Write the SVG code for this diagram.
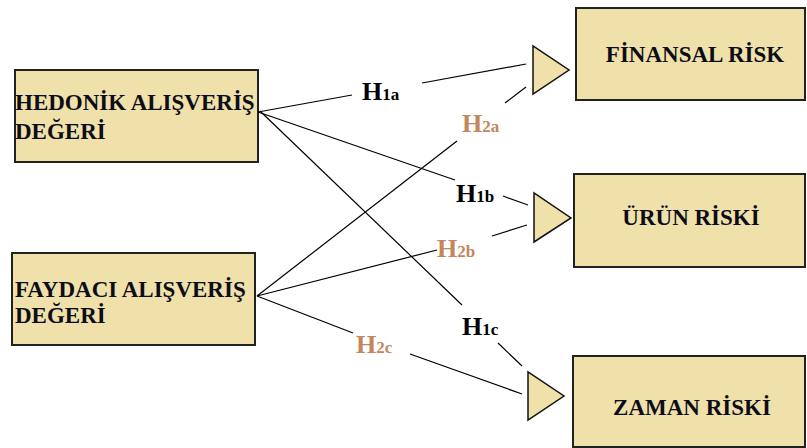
<svg xmlns="http://www.w3.org/2000/svg" width="807" height="448" viewBox="0 0 807 448">
<style>
.box{fill:#EFE1A9;stroke:#222;stroke-width:2}
.tri{fill:#EFE1A9;stroke:#111;stroke-width:1.5}
.t{font-family:"Liberation Serif","Times New Roman",serif;font-weight:bold;font-size:23px;fill:#0d0d1a}
.c{text-anchor:middle}
.lbl{font-family:"Liberation Serif","Times New Roman",serif;font-weight:bold;font-size:26px}
.h1{fill:#000}
.h2{fill:#C4865C}
.sub{font-size:17px}
.con line{stroke:#000;stroke-width:1.2}
</style>
<rect width="807" height="448" fill="#fff"/>
<g id="hedonik">
<rect class="box" x="15" y="70" width="243" height="92"/>
<text class="t" x="15" y="110">HEDONİK ALIŞVERİŞ</text>
<text class="t" x="15" y="139">DEĞERİ</text>
</g>
<g id="faydaci">
<rect class="box" x="12" y="253" width="243" height="92"/>
<text class="t" x="15" y="297">FAYDACI ALIŞVERİŞ</text>
<text class="t" x="15" y="323">DEĞERİ</text>
</g>
<g id="finansal">
<polygon class="tri" points="533,46 533,94 569,70"/>
<rect class="box" x="576" y="8" width="229" height="92"/>
<text class="t c" x="695" y="62">FİNANSAL RİSK</text>
</g>
<g id="urun">
<polygon class="tri" points="534,193 534,242 571,218"/>
<rect class="box" x="574" y="174" width="231" height="93"/>
<text class="t c" x="691" y="225">ÜRÜN RİSKİ</text>
</g>
<g id="zaman">
<polygon class="tri" points="528,372 528,420 564,396"/>
<rect class="box" x="573" y="356" width="232" height="91"/>
<text class="t c" x="692" y="415">ZAMAN RİSKİ</text>
</g>
<g id="connectors" class="con">
<line x1="258" y1="112" x2="352" y2="95"/>
<line x1="422" y1="83" x2="526" y2="64"/>
<line x1="257" y1="296" x2="457" y2="141"/>
<line x1="505" y1="103" x2="526" y2="87"/>
<line x1="258" y1="112" x2="455" y2="180"/>
<line x1="503" y1="196" x2="528" y2="205"/>
<line x1="260" y1="111" x2="462" y2="305"/>
<line x1="498" y1="343" x2="522" y2="366"/>
<line x1="257" y1="296" x2="437" y2="250"/>
<line x1="492" y1="236" x2="527" y2="225"/>
<line x1="257" y1="296" x2="353" y2="333"/>
<line x1="410" y1="354" x2="522" y2="394"/>
</g>
<g id="labels">
<text class="lbl h1" x="362" y="100">H<tspan class="sub">1a</tspan></text>
<text class="lbl h2" x="462" y="132">H<tspan class="sub">2a</tspan></text>
<text class="lbl h1" x="456" y="202">H<tspan class="sub">1b</tspan></text>
<text class="lbl h2" x="437" y="257">H<tspan class="sub">2b</tspan></text>
<text class="lbl h1" x="462" y="335">H<tspan class="sub">1c</tspan></text>
<text class="lbl h2" x="356" y="353">H<tspan class="sub">2c</tspan></text>
</g>
</svg>
